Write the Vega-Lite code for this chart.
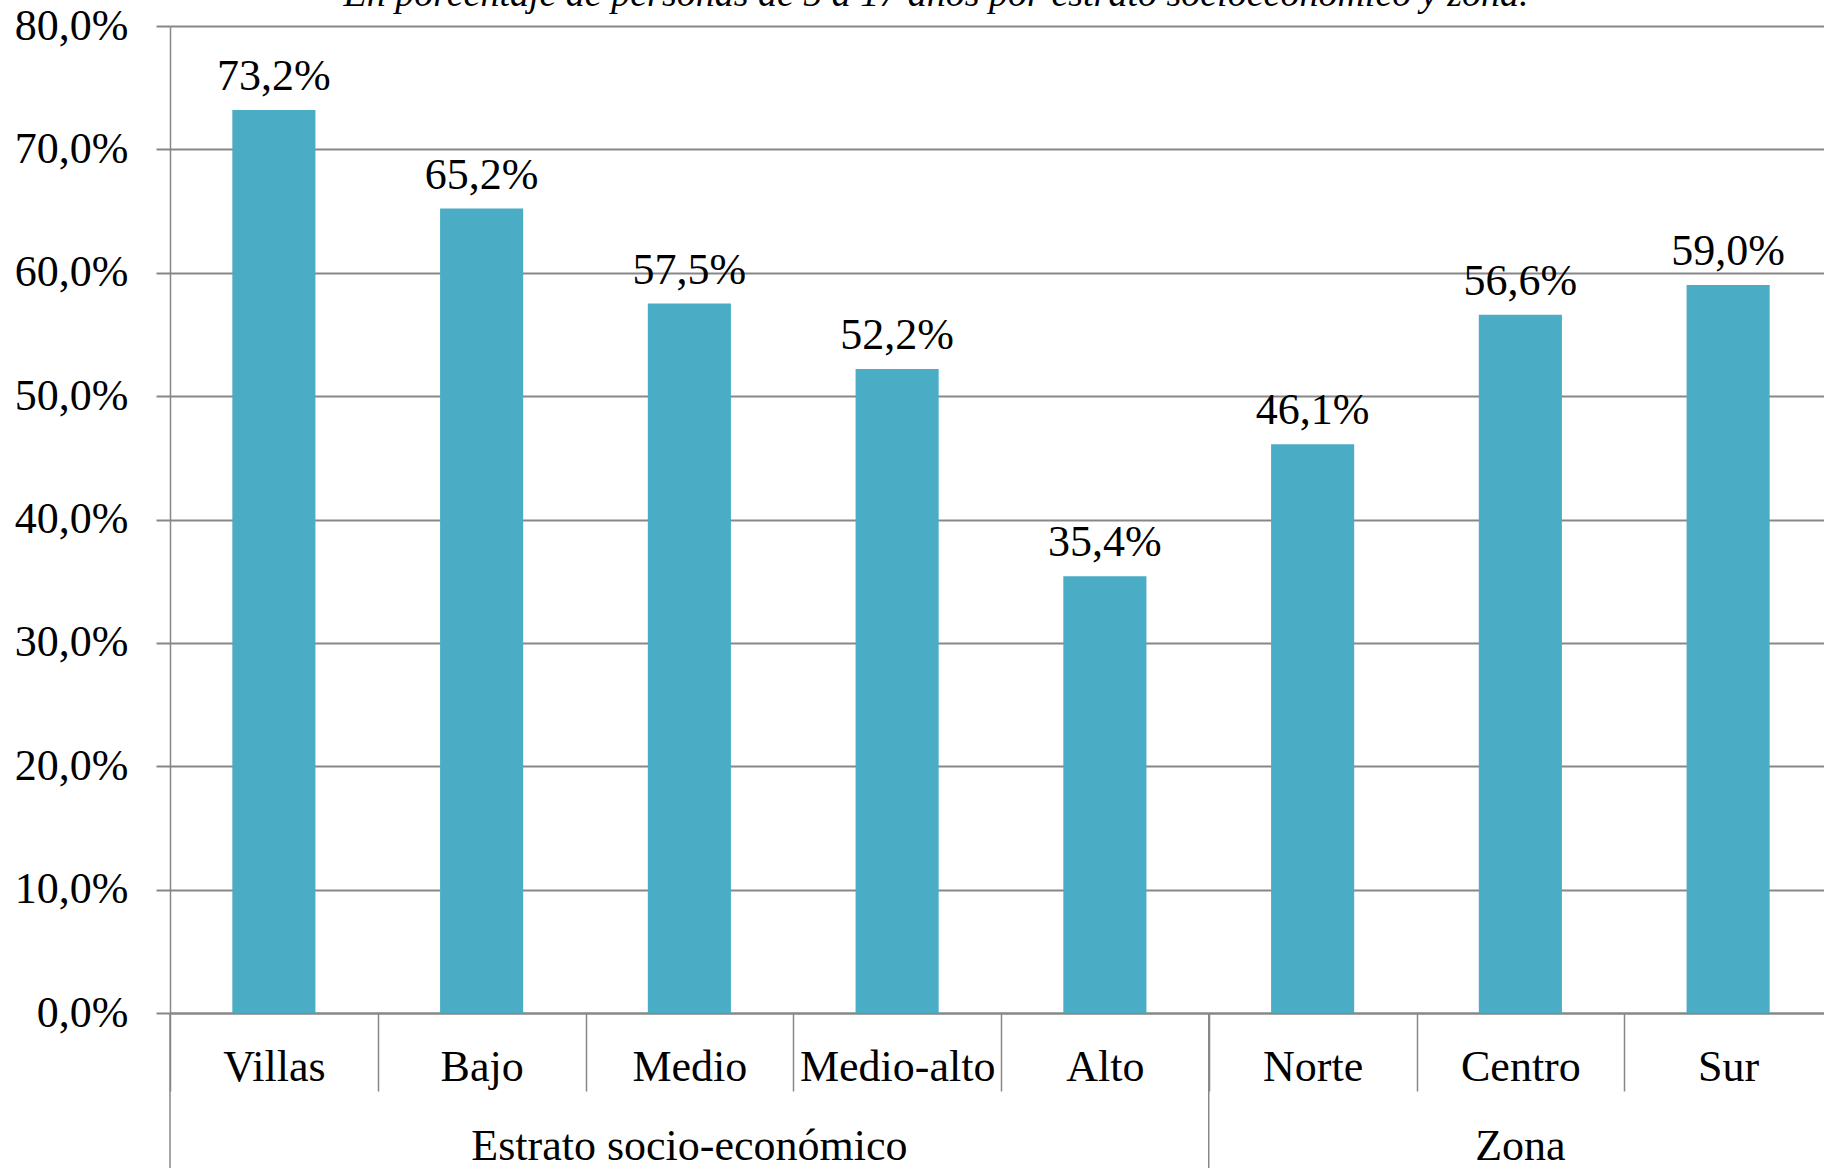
{
  "$schema": "https://vega.github.io/schema/vega-lite/v6.json",
  "width": 1654,
  "height": 987,
  "autosize": {"type": "none"},
  "padding": {"left": 170, "top": 26, "right": 0, "bottom": 155},
  "background": "white",
  "title": {
    "text": "En porcentaje de personas de 5 a 17 años por estrato socioeconómico y zona.",
    "font": "Liberation Serif",
    "fontSize": 38,
    "fontStyle": "italic",
    "fontWeight": "normal",
    "color": "#000000",
    "anchor": "middle",
    "frame": "group",
    "baseline": "alphabetic",
    "offset": 0,
    "dy": 40,
    "dx": -61
  },
  "data": {
    "values": [
      {"categoria": "Villas", "grupo": "Estrato socio-económico", "valor": 0.732},
      {"categoria": "Bajo", "grupo": "Estrato socio-económico", "valor": 0.652},
      {"categoria": "Medio", "grupo": "Estrato socio-económico", "valor": 0.575},
      {"categoria": "Medio-alto", "grupo": "Estrato socio-económico", "valor": 0.522},
      {"categoria": "Alto", "grupo": "Estrato socio-económico", "valor": 0.354},
      {"categoria": "Norte", "grupo": "Zona", "valor": 0.461},
      {"categoria": "Centro", "grupo": "Zona", "valor": 0.566},
      {"categoria": "Sur", "grupo": "Zona", "valor": 0.59}
    ]
  },
  "encoding": {
    "x": {
      "field": "categoria",
      "type": "nominal",
      "sort": null,
      "scale": {"paddingInner": 0, "paddingOuter": 0, "range": [0, 1662]},
      "axis": {
        "title": null,
        "tickBand": "extent",
        "tickSize": 78,
        "tickColor": "#878787",
        "tickWidth": 1.5,
        "domainColor": "#878787",
        "domainWidth": 2,
        "labelFont": "Liberation Serif",
        "labelFontSize": 44,
        "labelColor": "#000000",
        "labelAngle": 0,
        "labelBaseline": "alphabetic",
        "labelPadding": -11,
        "labelLimit": 0,
        "labelOverlap": false,
        "labelFlush": false
      }
    }
  },
  "layer": [
    {
      "mark": {"type": "bar", "color": "#4BACC6", "width": {"band": 0.4}},
      "encoding": {
        "y": {
          "field": "valor",
          "type": "quantitative",
          "scale": {"domain": [0, 0.8], "nice": false},
          "axis": {
            "title": null,
            "values": [0, 0.1, 0.2, 0.3, 0.4, 0.5, 0.6, 0.7, 0.8],
            "format": ".1%",
            "grid": true,
            "gridColor": "#878787",
            "gridWidth": 2,
            "tickSize": 14,
            "tickColor": "#878787",
            "tickWidth": 2,
            "domainColor": "#878787",
            "domainWidth": 1.5,
            "labelFont": "Liberation Serif",
            "labelFontSize": 44,
            "labelColor": "#000000",
            "labelPadding": 28
          }
        }
      }
    },
    {
      "mark": {"type": "text", "font": "Liberation Serif", "fontSize": 44, "color": "#000000", "baseline": "alphabetic", "dy": -20},
      "encoding": {
        "y": {"field": "valor", "type": "quantitative", "scale": {"domain": [0, 0.8], "nice": false}},
        "text": {"field": "valor", "type": "quantitative", "format": ".1%"}
      }
    },
    {
      "transform": [
        {"window": [{"op": "row_number", "as": "rk"}], "groupby": ["grupo"]},
        {"filter": "datum.rk == 1"}
      ],
      "mark": {"type": "rule", "color": "#878787", "strokeWidth": 1.5},
      "encoding": {
        "x": {"field": "categoria", "type": "nominal", "sort": null, "bandPosition": 0},
        "y": {"datum": 0, "scale": {"domain": [0, 0.8], "nice": false}},
        "y2": {"datum": -0.126}
      }
    },
    {
      "transform": [
        {"window": [{"op": "row_number", "as": "rk"}], "groupby": ["grupo"]},
        {"joinaggregate": [{"op": "count", "as": "n"}], "groupby": ["grupo"]},
        {"filter": "datum.rk == ceil(datum.n / 2)"}
      ],
      "mark": {"type": "text", "font": "Liberation Serif", "fontSize": 44, "color": "#000000", "baseline": "alphabetic"},
      "encoding": {
        "y": {"datum": -0.119, "scale": {"domain": [0, 0.8], "nice": false}},
        "text": {"field": "grupo", "type": "nominal"}
      }
    }
  ],
  "config": {
    "view": {"stroke": null},
    "locale": {
      "number": {"decimal": ",", "thousands": ".", "grouping": [3], "currency": ["", " €"]}
    }
  }
}
